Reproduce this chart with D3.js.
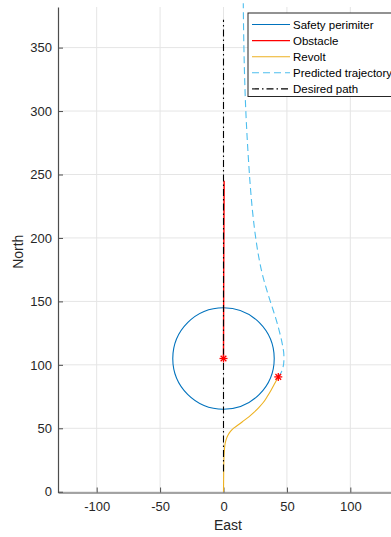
<!DOCTYPE html>
<html>
<head>
<meta charset="utf-8">
<script src="https://cdn.jsdelivr.net/npm/d3@7/dist/d3.min.js"></script>
<style>
  html, body { margin: 0; padding: 0; background: #fff; overflow: hidden; }
  svg { display: block; font-family: "Liberation Sans", Arial, Helvetica, sans-serif; }
</style>
</head>
<body>
<svg id="chart" width="391" height="537"></svg>
<script>
// Axis ticks
const xTicks = [-100, -50, 0, 50, 100];
const yTicks = [0, 50, 100, 150, 200, 250, 300, 350];

// Safety perimeter around the obstacle (East, North, radius)
const perimeterCenter = [0, 105];
const perimeterRadius = 40;

// Obstacle track (East, North)
const obstacleEast  = [0, 0.1, 0.2, 0.4, 0.5];
const obstacleNorth = [105, 140, 180, 220, 245];

// Revolt track (East, North)
const revoltEast  = [0, 0.1, 0.2, 0.4, 0.8, 1.3, 2.2, 3.5, 5.5, 8.5, 12, 16, 20, 24, 28, 31.5, 34.5, 37.5, 40.5, 43.2];
const revoltNorth = [0, 10, 20, 28, 34, 38, 41.5, 44.5, 47.5, 50.5, 53, 56, 59, 62.5, 66.5, 70.5, 75, 80, 85.5, 90.5];

// Predicted trajectory (East, North)
const predEast  = [43.2, 45.5, 46.9, 47.6, 47.6, 46.8, 45.6, 43.9, 41.7, 39.2, 36.9, 33.8, 30.5, 27.8, 25.4, 23.0, 21.2, 19.8, 18.6, 17.6, 16.7, 16.1, 15.7, 15.6];
const predNorth = [90.5, 94, 98, 103, 108, 114, 120, 127, 135, 143, 150, 160, 172, 185, 200, 220, 240, 260, 280, 300, 325, 350, 375, 385];

// Desired path (East, North)
const desiredEast  = [0, 0];
const desiredNorth = [16, 372];

// Marker positions (obstacle and vessel)
const markerEast  = [0, 43.2];
const markerNorth = [105, 90.5];

const legendLabels = ["Safety perimiter", "Obstacle", "Revolt", "Predicted trajectory", "Desired path"];
const colors = ["#0072BD", "#FF0000", "#EDB120", "#4DBEEE", "#000000"];
const dashes = [null, null, null, "7,4", "7,3,1.5,3"];

const svg = d3.select("#chart");
const mLeft = 58, mRight = 398, mTop = 7, mBottom = 492.5;

const x = d3.scaleLinear().domain([-130.5, 137.6]).range([mLeft, mRight]);
const y = d3.scaleLinear().domain([-0.6, 382]).range([mBottom, mTop]);

const textColor = "#262626";

// Grid
const grid = svg.append("g");
grid.selectAll(".gx").data(xTicks).join("line")
  .attr("x1", d => x(d)).attr("x2", d => x(d))
  .attr("y1", mTop).attr("y2", mBottom)
  .attr("stroke", "#e5e5e5").attr("stroke-width", 1);
grid.selectAll(".gy").data(yTicks).join("line")
  .attr("y1", d => y(d)).attr("y2", d => y(d))
  .attr("x1", mLeft).attr("x2", mRight)
  .attr("stroke", "#e5e5e5").attr("stroke-width", 1);

// Axes with inward ticks
const xAxis = svg.append("g").attr("transform", `translate(0,${mBottom})`)
  .call(d3.axisBottom(x).tickValues(xTicks).tickSizeInner(-5).tickSizeOuter(0).tickPadding(9));
const yAxis = svg.append("g").attr("transform", `translate(${mLeft},0)`)
  .call(d3.axisLeft(y).tickValues(yTicks).tickSizeInner(-5).tickSizeOuter(0).tickPadding(6));
[xAxis, yAxis].forEach(a => {
  a.select(".domain").attr("stroke", "#4d4d4d").attr("stroke-width", 1.2);
  a.selectAll(".tick line").attr("stroke", "#4d4d4d");
  a.selectAll(".tick text").attr("fill", textColor).attr("font-size", 13)
    .attr("font-family", "Liberation Sans, Arial, sans-serif");
});
xAxis.selectAll(".tick text").text(d => d < 0 ? "-" + Math.abs(d) : d);

const plot = svg.append("g");

// Safety perimeter circle
plot.append("ellipse")
  .attr("cx", x(perimeterCenter[0])).attr("cy", y(perimeterCenter[1]))
  .attr("rx", x(perimeterRadius) - x(0)).attr("ry", y(0) - y(perimeterRadius))
  .attr("fill", "none").attr("stroke", colors[0]).attr("stroke-width", 1.1);

const series = [
  [obstacleEast, obstacleNorth],
  [revoltEast, revoltNorth],
  [predEast, predNorth],
  [desiredEast, desiredNorth]
];
const pathGen = d3.line().x(d => x(d[0])).y(d => y(d[1])).curve(d3.curveMonotoneY);
series.forEach((s, i) => {
  const pts = s[0].map((e, k) => [e, s[1][k]]);
  plot.append("path")
    .attr("d", pathGen(pts))
    .attr("fill", "none")
    .attr("stroke", colors[i + 1])
    .attr("stroke-width", i === 0 ? 1.4 : 1.1)
    .attr("stroke-dasharray", dashes[i + 1]);
});

// Star markers
markerEast.forEach((e, k) => {
  const g = plot.append("g").attr("transform", `translate(${x(e)},${y(markerNorth[k])})`);
  const r = 4;
  [0, 45, 90, 135].forEach(a => {
    const rad = a * Math.PI / 180;
    g.append("line")
      .attr("x1", -r * Math.cos(rad)).attr("y1", -r * Math.sin(rad))
      .attr("x2", r * Math.cos(rad)).attr("y2", r * Math.sin(rad))
      .attr("stroke", "#FF0000").attr("stroke-width", 1.3);
  });
});

// Axis labels
svg.append("text").attr("x", (mLeft + mRight) / 2).attr("y", 530)
  .attr("text-anchor", "middle").attr("font-size", 14).attr("fill", textColor).text("East");
svg.append("text").attr("transform", `translate(23,${(mTop + mBottom) / 2 + 2}) rotate(-90)`)
  .attr("text-anchor", "middle").attr("font-size", 14).attr("fill", textColor).text("North");

// Legend
const lg = svg.append("g").attr("transform", "translate(248,13)");
lg.append("rect").attr("x", 0).attr("y", 0).attr("width", 200).attr("height", 83.5)
  .attr("fill", "#fff").attr("stroke", "#262626").attr("stroke-width", 1);
legendLabels.forEach((lab, i) => {
  const cy = 11.5 + i * 16.1;
  lg.append("line").attr("x1", 4).attr("x2", 42).attr("y1", cy).attr("y2", cy)
    .attr("stroke", colors[i]).attr("stroke-width", 1.1)
    .attr("stroke-dasharray", dashes[i]);
  lg.append("text").attr("x", 45).attr("y", cy + 4).attr("font-size", 11.5)
    .attr("fill", "#000").text(lab);
});
</script>
</body>
</html>
